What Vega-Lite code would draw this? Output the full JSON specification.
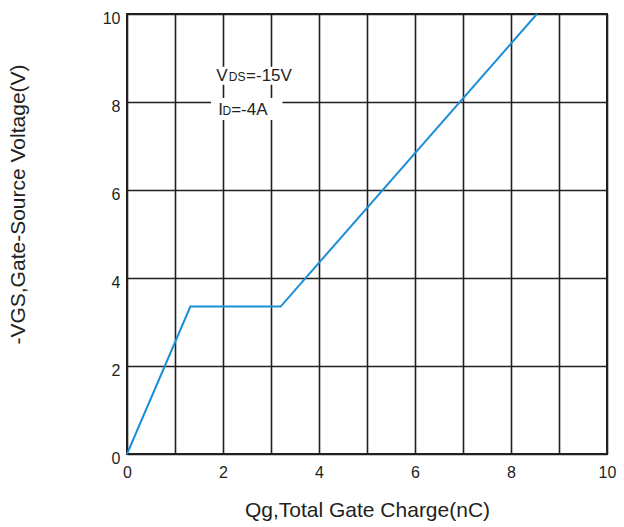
{
  "$schema": "https://vega.github.io/schema/vega-lite/v6.json",
  "width": 480,
  "height": 440,
  "autosize": {"type": "none"},
  "padding": {"left": 127, "top": 14, "right": 17, "bottom": 73},
  "background": "white",
  "config": {
    "view": {"stroke": "#231f20", "strokeWidth": 2},
    "font": "Liberation Sans",
    "axis": {
      "labelFont": "Liberation Sans",
      "titleFont": "Liberation Sans",
      "labelColor": "#231f20",
      "titleColor": "#231f20",
      "labelFontSize": 16,
      "titleFontSize": 21,
      "titleFontWeight": "normal",
      "gridColor": "#231f20",
      "gridWidth": 1.6,
      "gridOpacity": 1,
      "domain": false,
      "ticks": false
    }
  },
  "layer": [
    {
      "data": {"values": [
        {"qg": 0, "vgs": 0},
        {"qg": 1.32, "vgs": 3.35},
        {"qg": 3.2, "vgs": 3.35},
        {"qg": 8.54, "vgs": 10}
      ]},
      "mark": {"type": "line", "color": "#1a8fd8", "strokeWidth": 2},
      "encoding": {
        "x": {
          "field": "qg", "type": "quantitative",
          "scale": {"domain": [0, 10], "nice": false},
          "axis": {
            "title": "Qg,Total Gate Charge(nC)",
            "values": [0, 1, 2, 3, 4, 5, 6, 7, 8, 9, 10],
            "labelExpr": "datum.value % 2 === 0 ? datum.label : ''",
            "labelFlush": false,
            "labelPadding": 10,
            "titleY": 56,
            "titleBaseline": "middle"
          }
        },
        "y": {
          "field": "vgs", "type": "quantitative",
          "scale": {"domain": [0, 10], "nice": false},
          "axis": {
            "title": "-VGS,Gate-Source Voltage(V)",
            "values": [0, 2, 4, 6, 8, 10],
            "labelPadding": 7,
            "labelOffset": 4,
            "titleX": -109,
            "titleY": 190,
            "titleBaseline": "middle"
          }
        }
      }
    },
    {
      "data": {"values": [
        {"x1": 1.78, "x2": 3.57, "y1": 8.39, "y2": 8.8},
        {"x1": 1.75, "x2": 3.24, "y1": 7.59, "y2": 8.09}
      ]},
      "mark": {"type": "rect", "color": "white"},
      "encoding": {
        "x": {"field": "x1", "type": "quantitative"},
        "x2": {"field": "x2"},
        "y": {"field": "y1", "type": "quantitative"},
        "y2": {"field": "y2"}
      }
    },
    {
      "data": {"values": [
        {"x": 1.86, "y": 8.48, "t": "V"},
        {"x": 2.48, "y": 8.48, "t": "=-15V"},
        {"x": 1.9, "y": 7.7, "t": "I"},
        {"x": 2.17, "y": 7.7, "t": "=-4A"}
      ]},
      "mark": {"type": "text", "align": "left", "baseline": "alphabetic", "fontSize": 17, "color": "#231f20", "font": "Liberation Sans"},
      "encoding": {
        "x": {"field": "x", "type": "quantitative"},
        "y": {"field": "y", "type": "quantitative"},
        "text": {"field": "t"}
      }
    },
    {
      "data": {"values": [
        {"x": 2.12, "y": 8.48, "t": "DS"},
        {"x": 1.99, "y": 7.7, "t": "D"}
      ]},
      "mark": {"type": "text", "align": "left", "baseline": "alphabetic", "fontSize": 12, "color": "#231f20", "font": "Liberation Sans"},
      "encoding": {
        "x": {"field": "x", "type": "quantitative"},
        "y": {"field": "y", "type": "quantitative"},
        "text": {"field": "t"}
      }
    }
  ]
}
